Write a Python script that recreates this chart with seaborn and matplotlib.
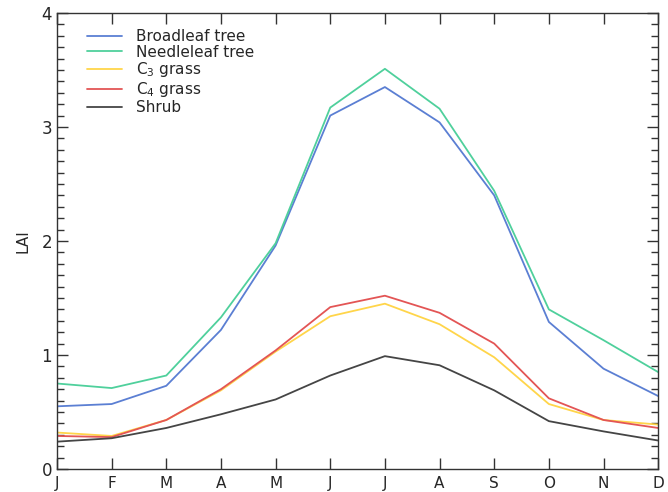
import matplotlib
matplotlib.use("Agg")
import matplotlib.pyplot as plt
import seaborn as sns
import pandas as pd
import numpy as np
from matplotlib.ticker import MultipleLocator

months = ["J", "F", "M", "A", "M", "J", "J", "A", "S", "O", "N", "D"]
broadleaf = [0.55, 0.57, 0.73, 1.22, 1.96, 3.10, 3.35, 3.04, 2.40, 1.29, 0.88, 0.64]
needleleaf = [0.75, 0.71, 0.82, 1.33, 1.98, 3.17, 3.51, 3.16, 2.44, 1.40, 1.13, 0.85]
c3_grass = [0.32, 0.29, 0.43, 0.69, 1.03, 1.34, 1.45, 1.27, 0.98, 0.57, 0.43, 0.39]
c4_grass = [0.29, 0.28, 0.43, 0.70, 1.04, 1.42, 1.52, 1.37, 1.10, 0.62, 0.43, 0.36]
shrub = [0.24, 0.27, 0.36, 0.48, 0.61, 0.82, 0.99, 0.91, 0.69, 0.42, 0.33, 0.25]

names = ["Broadleaf tree", "Needleleaf tree", "C$_3$ grass", "C$_4$ grass", "Shrub"]
series = [broadleaf, needleleaf, c3_grass, c4_grass, shrub]
colors = ["#5b7fd3", "#4fd09c", "#ffd54a", "#e35555", "#454545"]

rows = []
for n, vals in zip(names, series):
    for i, v in enumerate(vals):
        rows.append({"month": i, "LAI": v, "type": n})
df = pd.DataFrame(rows)

sns.set_style("ticks")
plt.rcParams["font.family"] = ["DejaVu Sans"]

fig = plt.figure(figsize=(6.68, 4.92), dpi=100)
ax = fig.add_axes([0.0853, 0.0467, 0.900, 0.927])
sns.lineplot(data=df, x="month", y="LAI", hue="type", hue_order=names,
             palette=colors, ax=ax, linewidth=1.3, legend=True)

ax.set_xlim(0, 11)
ax.set_ylim(0, 4)
ax.set_xticks(range(12))
ax.set_xticklabels(months, fontsize=11)
ax.set_yticks([0, 1, 2, 3, 4])
ax.set_yticklabels(["0", "1", "2", "3", "4"], fontsize=12)
ax.yaxis.set_minor_locator(MultipleLocator(0.1))
ax.tick_params(axis="both", which="major", direction="in", length=8, width=1,
               top=True, right=True, color="#333333")
ax.tick_params(axis="y", which="minor", direction="in", length=5, width=1,
               right=True, left=True, color="#333333")
ax.tick_params(axis="x", which="major", pad=5)
ax.set_xlabel("")
ax.set_ylabel("LAI", fontsize=11, labelpad=8)
for s in ax.spines.values():
    s.set_color("#333333")
    s.set_linewidth(1)

leg = ax.legend(loc="upper left", bbox_to_anchor=(0.035, 0.985), frameon=False,
                fontsize=11, handlelength=2.3, handletextpad=0.9,
                labelspacing=0.05, borderaxespad=0.2)
leg.set_title(None)

fig.savefig("out.png", dpi=100)
